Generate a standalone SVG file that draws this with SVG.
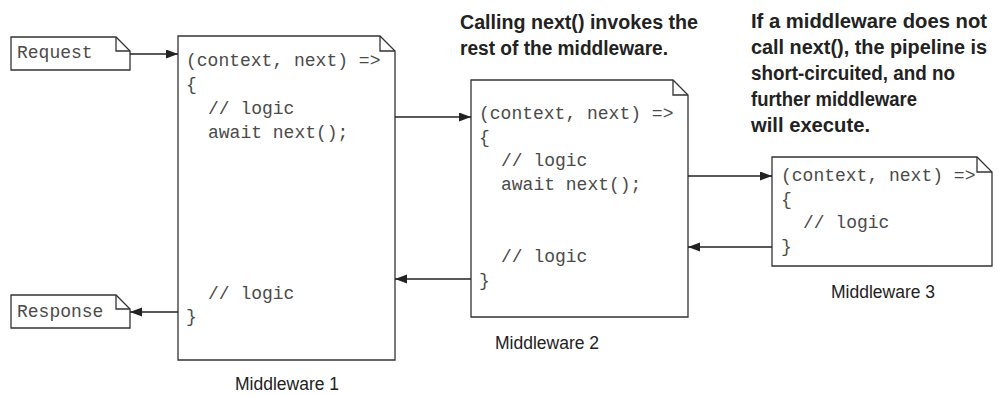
<svg xmlns="http://www.w3.org/2000/svg" width="998" height="396" viewBox="0 0 998 396">
<defs>
<style>
.box{fill:#fff;stroke:#333;stroke-width:1.3}
.fold{fill:none;stroke:#333;stroke-width:1.3}
.code{font-family:"Liberation Mono","Courier New",monospace;font-size:18px;fill:#4a4a4a}
.lbl{font-family:"Liberation Sans",Arial,sans-serif;font-size:17.5px;fill:#222;text-anchor:middle}
.note{font-family:"Liberation Sans",Arial,sans-serif;font-weight:bold;font-size:20px;fill:#222}
.conn{stroke:#222;stroke-width:1.3;fill:none;marker-end:url(#ah)}
</style>
<marker id="ah" markerUnits="userSpaceOnUse" markerWidth="13" markerHeight="10" refX="12" refY="4.5" orient="auto">
<path d="M0,0 L12,4.5 L0,9 Z" fill="#222"/>
</marker>
</defs>
<rect width="998" height="396" fill="#fff"/>

<g id="request">
<path class="box" d="M11,37 H116 L130,51 V70 H11 Z"/>
<path class="fold" d="M116,37 V51 H130"/>
<text class="code" x="17" y="58">Request</text>
</g>

<g id="response">
<path class="box" d="M11,295 H116 L130,309 V328 H11 Z"/>
<path class="fold" d="M116,295 V309 H130"/>
<text class="code" x="17" y="317">Response</text>
</g>

<g id="middleware1">
<path class="box" d="M178,36 H380 L395,51 V360 H178 Z"/>
<path class="fold" d="M380,36 V51 H395"/>
<text class="code" x="186" y="66">(context, next) =&gt;</text>
<text class="code" x="186" y="90">{</text>
<text class="code" x="208" y="114">// logic</text>
<text class="code" x="208" y="138">await next();</text>
<text class="code" x="208" y="299">// logic</text>
<text class="code" x="186" y="322">}</text>
<text class="lbl" x="287" y="390">Middleware 1</text>
</g>

<g id="middleware2">
<path class="box" d="M471,80 H673 L688,95 V317 H471 Z"/>
<path class="fold" d="M673,80 V95 H688"/>
<text class="code" x="479" y="119">(context, next) =&gt;</text>
<text class="code" x="479" y="143">{</text>
<text class="code" x="501" y="166">// logic</text>
<text class="code" x="501" y="190">await next();</text>
<text class="code" x="501" y="262">// logic</text>
<text class="code" x="479" y="286">}</text>
<text class="lbl" x="547" y="349">Middleware 2</text>
</g>

<g id="middleware3">
<path class="box" d="M772,157 H977 L992,172 V266 H772 Z"/>
<path class="fold" d="M977,157 V172 H992"/>
<text class="code" x="781" y="181">(context, next) =&gt;</text>
<text class="code" x="781" y="205">{</text>
<text class="code" x="803" y="228">// logic</text>
<text class="code" x="781" y="252">}</text>
<text class="lbl" x="883" y="298">Middleware 3</text>
</g>

<g id="annotation1">
<text class="note" x="460" y="29" textLength="238" lengthAdjust="spacingAndGlyphs">Calling next() invokes the</text>
<text class="note" x="460" y="55" textLength="208" lengthAdjust="spacingAndGlyphs">rest of the middleware.</text>
</g>

<g id="annotation2">
<text class="note" x="751" y="28" textLength="236" lengthAdjust="spacingAndGlyphs">If a middleware does not</text>
<text class="note" x="751" y="54" textLength="236" lengthAdjust="spacingAndGlyphs">call next(), the pipeline is</text>
<text class="note" x="751" y="80" textLength="204" lengthAdjust="spacingAndGlyphs">short-circuited, and no</text>
<text class="note" x="751" y="106" textLength="166" lengthAdjust="spacingAndGlyphs">further middleware</text>
<text class="note" x="751" y="132" textLength="119" lengthAdjust="spacingAndGlyphs">will execute.</text>
</g>

<g id="connectors">
<line class="conn" x1="130" y1="54" x2="178" y2="54"/>
<line class="conn" x1="178" y1="312" x2="130" y2="312"/>
<line class="conn" x1="395" y1="117" x2="471" y2="117"/>
<line class="conn" x1="471" y1="279" x2="395" y2="279"/>
<line class="conn" x1="688" y1="176" x2="772" y2="176"/>
<line class="conn" x1="772" y1="247" x2="688" y2="247"/>
</g>
</svg>
